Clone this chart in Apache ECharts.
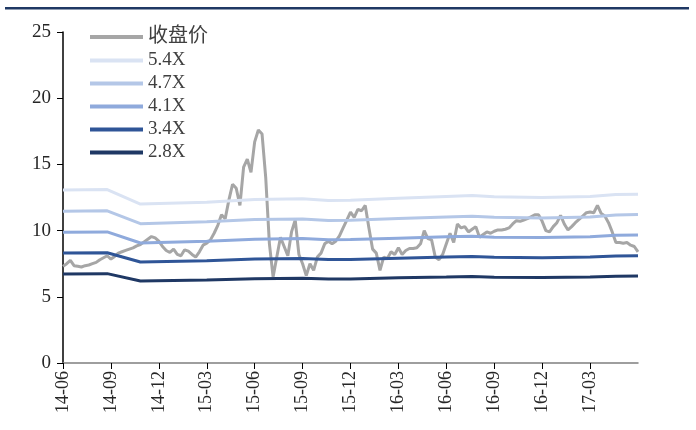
<!DOCTYPE html>
<html><head><meta charset="utf-8">
<script src="https://cdn.jsdelivr.net/npm/echarts@6/dist/echarts.min.js"></script>
<style>html,body{margin:0;padding:0;background:#fff}#c{width:696px;height:430px}</style>
</head><body><div id="c"></div>
<script>
// Tick labels, one every 13 weeks starting 2014-06
var tickLabels = ['14-06','14-09','14-12','15-03','15-06','15-09','15-12','16-03','16-06','16-09','16-12','17-03'];
var weeksPerTick = 13;
var weekCount = 157;
// Weekly closing price (收盘价)
var closePrice = [
7.3,7.5,7.75,7.35,7.3,7.25,7.35,7.4,7.5,7.6,7.8,7.95,8.1,7.85,8.05,8.3,8.4,8.5,8.6,8.7,
8.85,8.95,9.15,9.35,9.55,9.45,9.2,8.8,8.5,8.35,8.6,8.2,8.1,8.55,8.45,8.2,8.0,8.4,8.9,9.05,
9.3,9.8,10.4,11.2,10.9,12.3,13.5,13.2,11.9,14.8,15.4,14.4,16.7,17.6,17.3,14.0,9.0,6.5,8.0,9.5,
8.8,8.1,9.9,10.8,8.2,7.5,6.6,7.5,7.0,8.0,8.3,9.0,9.2,9.0,9.2,9.6,10.2,10.8,11.4,11.0,
11.6,11.5,11.9,10.2,8.6,8.3,7.0,8.0,7.9,8.4,8.2,8.7,8.2,8.5,8.65,8.65,8.7,9.0,10.0,9.4,
9.3,8.0,7.8,8.2,9.0,9.8,9.1,10.5,10.2,10.3,9.9,10.1,10.3,9.5,9.7,9.9,9.8,9.95,10.05,10.05,
10.1,10.2,10.5,10.75,10.7,10.8,10.9,11.05,11.2,11.2,10.7,10.0,9.9,10.3,10.6,11.15,10.5,10.05,10.3,10.6,
10.85,11.1,11.35,11.4,11.35,11.9,11.3,11.1,10.6,9.9,9.1,9.1,9.05,9.1,8.9,8.8,8.4
];
// PE band key points (week index) and values
var bandWeeks = [0,12,21,39,52,65,72,78,91,104,111,117,130,143,150,156];
var band54 = [13.07,13.1,12.0,12.15,12.35,12.4,12.28,12.3,12.45,12.58,12.65,12.55,12.5,12.58,12.72,12.74];
var band47 = [11.47,11.49,10.52,10.66,10.83,10.87,10.77,10.79,10.92,11.03,11.09,11.0,10.96,11.03,11.17,11.22];
var band41 = [9.88,9.9,9.06,9.2,9.35,9.4,9.3,9.32,9.43,9.53,9.58,9.5,9.47,9.53,9.64,9.67];
var band34 = [8.31,8.33,7.63,7.73,7.86,7.89,7.81,7.82,7.92,8.0,8.04,7.98,7.95,8.0,8.09,8.1];
var band28 = [6.73,6.75,6.19,6.27,6.37,6.4,6.34,6.35,6.43,6.49,6.53,6.48,6.45,6.49,6.56,6.57];
var seriesNames = ['收盘价','5.4X','4.7X','4.1X','3.4X','2.8X'];
var seriesColors = ['#a6a6a6','#dae3f3','#b4c7e7','#8faadc','#2f5597','#1f3864'];

var categories = [];
for (var i = 0; i < weekCount; i++) {
  categories.push(i % weeksPerTick === 0 && tickLabels[i / weeksPerTick] ? tickLabels[i / weeksPerTick] : '');
}
function bandSeries(vals) {
  var arr = new Array(weekCount).fill(null);
  bandWeeks.forEach(function (w, k) { arr[w] = vals[k]; });
  return arr;
}
var bandData = [band54, band47, band41, band34, band28].map(bandSeries);
var showTick = function (idx) { return idx % weeksPerTick === 0 && idx < weeksPerTick * tickLabels.length; };
var font = '"Liberation Serif","Noto Sans CJK SC",serif';

var series = [{
  name: seriesNames[0], type: 'line', data: closePrice, symbol: 'none',
  lineStyle: { width: 3, color: seriesColors[0] }, itemStyle: { color: seriesColors[0] }
}];
bandData.forEach(function (d, k) {
  series.push({
    name: seriesNames[k + 1], type: 'line', data: d, symbol: 'none', connectNulls: true,
    lineStyle: { width: 3, color: seriesColors[k + 1] }, itemStyle: { color: seriesColors[k + 1] }
  });
});

var chart = echarts.init(document.getElementById('c'));
chart.setOption({
  animation: false,
  backgroundColor: '#fff',
  graphic: [{ type: 'rect', shape: { x: 5, y: 7, width: 684, height: 2.5 }, style: { fill: '#1f3864' } }],
  grid: { left: 63, right: 58, top: 32, bottom: 67 },
  legend: {
    orient: 'vertical', left: 85, top: 22, icon: 'rect', itemWidth: 53, itemHeight: 4, itemGap: 4,
    data: seriesNames,
    formatter: function (name) { return /X$/.test(name) ? name : '{cn|' + name + '}'; },
    textStyle: {
      fontFamily: font, fontSize: 19, color: '#404040', lineHeight: 18,
      rich: { cn: { fontFamily: font, fontSize: 20, color: '#404040', lineHeight: 18 } }
    }
  },
  xAxis: {
    type: 'category', data: categories, boundaryGap: false,
    axisLine: { lineStyle: { color: '#7f7f7f', width: 1.5 } },
    axisTick: { interval: showTick, length: 6, lineStyle: { color: '#000' } },
    axisLabel: { interval: showTick, rotate: 90, fontFamily: font, fontSize: 18, color: '#262626', margin: 8 },
    splitLine: { show: false }
  },
  yAxis: {
    type: 'value', min: 0, max: 25, interval: 5,
    axisLine: { show: true, lineStyle: { color: '#000', width: 1.5 } },
    axisTick: { show: true, length: 6, lineStyle: { color: '#000' } },
    axisLabel: { fontFamily: font, fontSize: 19, color: '#262626', margin: 12 },
    splitLine: { show: false }
  },
  series: series
});
</script></body></html>
